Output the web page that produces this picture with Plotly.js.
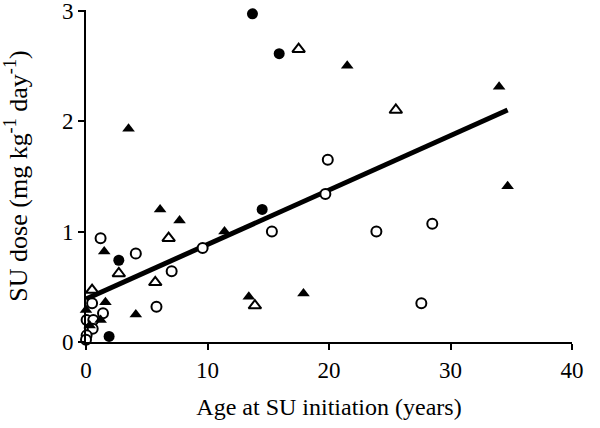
<!DOCTYPE html>
<html>
<head>
<meta charset="utf-8">
<script src="https://cdn.plot.ly/plotly-3.0.1.min.js"></script>
<style>html,body{margin:0;padding:0;background:#fff;}#chart{width:600px;height:428px;}</style>
</head>
<body>
<div id="chart"></div>
<script>
// Filled circles
const filledCircleX = [13.7, 15.9, 14.5, 2.7, 1.9];
const filledCircleY = [2.97, 2.61, 1.20, 0.74, 0.05];
// Open circles
const openCircleX = [19.9, 19.7, 15.3, 23.9, 28.5, 27.6, 9.6, 1.2, 4.1, 7.05, 5.8, 0.5, 1.4, 0.05, 0.6, 0.55, 0.05, 0.0];
const openCircleY = [1.65, 1.34, 1.00, 1.00, 1.07, 0.35, 0.85, 0.94, 0.80, 0.64, 0.32, 0.35, 0.26, 0.20, 0.20, 0.12, 0.06, 0.02];
// Filled triangles
const filledTriX = [3.5, 6.1, 7.7, 11.4, 21.5, 34.0, 34.7, 17.9, 13.4, 4.1, 1.5, 0.0, 1.6, 1.2, 0.3];
const filledTriY = [1.93, 1.20, 1.10, 1.00, 2.50, 2.31, 1.41, 0.44, 0.41, 0.25, 0.82, 0.29, 0.36, 0.20, 0.15];
// Open triangles
const openTriX = [17.5, 25.5, 6.8, 5.7, 2.7, 0.5, 13.9];
const openTriY = [2.65, 2.10, 0.94, 0.54, 0.62, 0.47, 0.33];
// Regression line
const fitX = [0, 34.7];
const fitY = [0.39, 2.10];

const xTicks = [0, 10, 20, 30, 40];
const yTicks = [0, 1, 2, 3];

const traces = [
  {x: fitX, y: fitY, mode: 'lines', line: {color: '#000', width: 5}, hoverinfo: 'skip', cliponaxis: false},
  {x: openCircleX, y: openCircleY, mode: 'markers', cliponaxis: false,
   marker: {symbol: 'circle', size: 10, color: '#fff', line: {color: '#000', width: 2}}},
  {x: openTriX, y: openTriY, mode: 'markers', cliponaxis: false,
   marker: {symbol: 'triangle-up', size: 11, color: '#fff', line: {color: '#000', width: 2}}},
  {x: filledTriX, y: filledTriY, mode: 'markers', cliponaxis: false,
   marker: {symbol: 'triangle-up', size: 11, color: '#000', line: {color: '#000', width: 0}}},
  {x: filledCircleX, y: filledCircleY, mode: 'markers', cliponaxis: false,
   marker: {symbol: 'circle', size: 11, color: '#000', line: {color: '#000', width: 0}}}
];

const font = {family: '"Liberation Serif", "Times New Roman", serif', color: '#000'};

const layout = {
  width: 600, height: 428,
  margin: {l: 86, r: 28, t: 10, b: 86},
  paper_bgcolor: '#fff', plot_bgcolor: '#fff',
  showlegend: false,
  font: font,
  xaxis: {
    range: [0, 40], tickvals: xTicks, ticktext: xTicks.map(String),
    showgrid: false, zeroline: false, showline: true, linecolor: '#000', linewidth: 2,
    ticks: 'outside', ticklen: 6, tickwidth: 2, tickcolor: '#000', automargin: false,
    ticklabeloverflow: 'allow',
    tickfont: Object.assign({size: 23}, font),
    title: {text: 'Age at SU initiation (years)', font: Object.assign({size: 24}, font), standoff: 17}
  },
  yaxis: {
    range: [0, 3.005], tickvals: yTicks, ticktext: yTicks.map(String),
    showgrid: false, zeroline: false, showline: true, linecolor: '#000', linewidth: 2,
    ticks: 'outside', ticklen: 6, tickwidth: 2, tickcolor: '#000', automargin: false,
    ticklabeloverflow: 'allow',
    tickfont: Object.assign({size: 23}, font),
    title: {text: 'SU dose (mg kg<sup>-1</sup> day<sup>-1</sup>)', font: Object.assign({size: 26}, font), standoff: 27}
  }
};

Plotly.newPlot('chart', traces, layout, {staticPlot: true, displayModeBar: false});
</script>
</body>
</html>
